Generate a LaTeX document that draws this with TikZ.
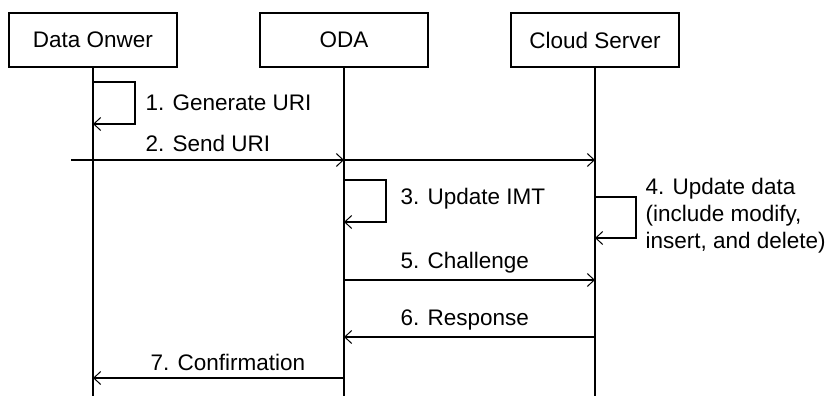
\documentclass[tikz,border=0pt]{standalone}
\usepackage{fontspec}
\setmainfont{Liberation Sans}
\usetikzlibrary{arrows.meta}
\begin{document}
\begin{tikzpicture}[x=1pt,y=-1pt,
  line width=1.2pt,
  actor/.style={draw, minimum width=168pt, minimum height=54pt, inner sep=0pt,
    font=\fontsize{22.5}{27}\selectfont},
  lbl/.style={font=\fontsize{22.5}{27}\selectfont, inner sep=0pt, anchor=west},
  msg/.style={-{Straight Barb[length=7pt,width=13pt,line width=1pt]}},
]
\useasboundingbox (0,0) rectangle (835,396);

% participants
\node[actor] (own) at (93,40) {Data Onwer};
\node[actor] (oda) at (344,40) {ODA};
\node[actor] (cs)  at (595,40) {Cloud Server};

% lifelines
\coordinate (ownE) at (93,396);
\coordinate (odaE) at (344,396);
\coordinate (csE)  at (595,396);
\draw (own.south) -- (ownE);
\draw (oda.south) -- (odaE);
\draw (cs.south)  -- (csE);

% 1. self message on the owner
\coordinate (s1a) at (93,82);
\coordinate (s1b) at (93,124);
\draw[msg] (s1a) -- (135,82) -- (135,124) -- (s1b);
\node[lbl] (l1) at (145,103) {1. Generate URI};

% 2. send URI
\coordinate (s2) at (71,160);
\coordinate (s2o) at (344,160);
\coordinate (s2c) at (595,160);
\draw[msg] (s2) -- (s2o);
\draw[msg] (s2o) -- (s2c);
\node[lbl] (l2) at (145,143) {2. Send URI};

% 3. self message on ODA
\coordinate (s3a) at (344,180);
\coordinate (s3b) at (344,222);
\draw[msg] (s3a) -- (386,180) -- (386,222) -- (s3b);
\node[lbl] (l3) at (400,199) {3. Update IMT};

% 4. self message on the cloud server
\coordinate (s4a) at (595,197);
\coordinate (s4b) at (595,238);
\draw[msg] (s4a) -- (636,197) -- (636,238) -- (s4b);
\node[lbl, align=left, anchor=north west] (l4) at (645,178)
  {4. Update data\\(include modify,\\insert, and delete)};

% 5. challenge
\coordinate (s5o) at (344,280);
\coordinate (s5c) at (595,280);
\draw[msg] (s5o) -- (s5c);
\node[lbl] (l5) at (400,263) {5. Challenge};

% 6. response
\coordinate (s6c) at (595,337);
\coordinate (s6o) at (344,337);
\draw[msg] (s6c) -- (s6o);
\node[lbl] (l6) at (400,320) {6. Response};

% 7. confirmation
\coordinate (s7o) at (344,378);
\coordinate (s7w) at (93,378);
\draw[msg] (s7o) -- (s7w);
\node[lbl] (l7) at (150,362) {7. Confirmation};
\end{tikzpicture}
\end{document}
